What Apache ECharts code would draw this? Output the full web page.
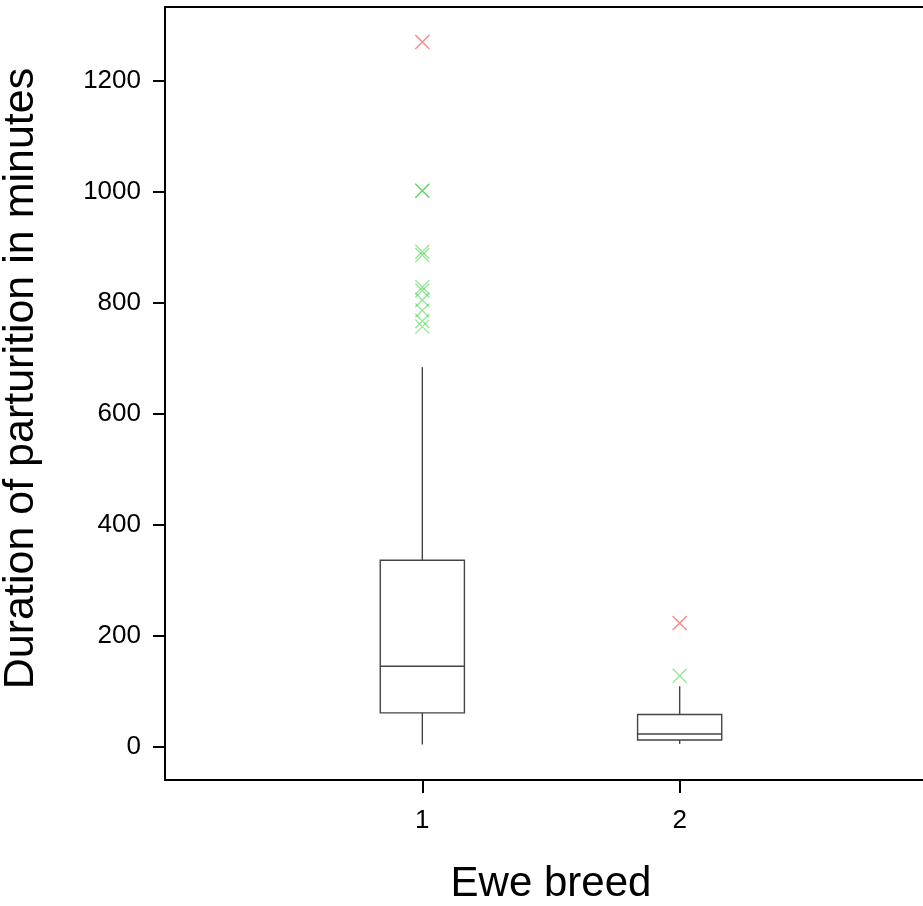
<!DOCTYPE html>
<html>
<head>
<meta charset="utf-8">
<script src="https://cdn.jsdelivr.net/npm/echarts@6/dist/echarts.min.js"></script>
<style>
  html, body { margin: 0; padding: 0; background: #fff; }
  #chart { width: 923px; height: 906px; }
</style>
</head>
<body>
<div id="chart"></div>
<script>
// ewe breeds and box statistics (minutes)
const breeds = ['1', '2'];
const whiskerLow = [4, 5];
const q1 = [61, 12];
const median = [145, 23];
const q3 = [336, 58];
const whiskerHigh = [684, 109];
// outliers per breed (green) and extreme values (red)
const outliers1 = [1002, 1002, 892, 886, 828, 822, 805, 786, 767, 757];
const outliers2 = [128];
const extremes = [1270, 223];
const yTicks = [0, 200, 400, 600, 800, 1000, 1200];

const font = "'Liberation Sans', Arial, sans-serif";
const cross = 'path://M0,0L10,10M10,0L0,10';

var boxData = breeds.map(function (b, i) {
  return [i + 1, whiskerLow[i], q1[i], median[i], q3[i], whiskerHigh[i]];
});
var greenPts = outliers1.map(function (v) { return [1, v]; })
  .concat(outliers2.map(function (v) { return [2, v]; }));
var redPts = extremes.map(function (v, i) { return [i + 1, v]; });

var chart = echarts.init(document.getElementById('chart'));
chart.setOption({
  backgroundColor: '#fff',
  animation: false,
  grid: {
    left: 165,
    right: -14,
    top: 7,
    bottom: 126,
    containLabel: false,
    outerBoundsMode: 'none'
  },
  xAxis: [{
    type: 'value',
    min: 0,
    max: 3,
    position: 'bottom',
    name: 'Ewe breed',
    nameLocation: 'middle',
    nameGap: 83,
    nameTextStyle: { fontFamily: font, fontSize: 42, color: '#000' },
    axisLine: { show: true, onZero: false, lineStyle: { color: '#000', width: 2 } },
    axisTick: { show: true, length: 13, lineStyle: { color: '#000', width: 2 }, customValues: [1, 2] },
    axisLabel: {
      fontFamily: font, fontSize: 26, color: '#000', margin: 28,
      customValues: [1, 2],
      formatter: function (v) { return breeds[v - 1]; }
    },
    splitLine: { show: false }
  }, {
    type: 'value',
    min: 0,
    max: 3,
    position: 'top',
    axisLine: { show: true, onZero: false, lineStyle: { color: '#000', width: 2 } },
    axisTick: { show: false },
    axisLabel: { show: false },
    splitLine: { show: false }
  }],
  yAxis: {
    type: 'value',
    min: -60,
    max: 1333,
    name: 'Duration of parturition in minutes',
    nameLocation: 'middle',
    nameGap: 122,
    nameTextStyle: { fontFamily: font, fontSize: 43, color: '#000', padding: [0, 0, 0, 30] },
    axisLine: { show: true, onZero: false, lineStyle: { color: '#000', width: 2 } },
    axisTick: { show: true, length: 12, lineStyle: { color: '#000', width: 2 }, customValues: yTicks },
    axisLabel: {
      fontFamily: font, fontSize: 26, color: '#000', margin: 24, customValues: yTicks,
      formatter: function (v) { return String(v); }
    },
    splitLine: { show: false }
  },
  series: [{
    type: 'custom',
    xAxisIndex: 0,
    data: boxData,
    renderItem: function (params, api) {
      var x = api.value(0);
      var half = api.size([0.327, 0])[0] / 2;
      var lo = api.coord([x, api.value(1)]);
      var b1 = api.coord([x, api.value(2)]);
      var md = api.coord([x, api.value(3)]);
      var b3 = api.coord([x, api.value(4)]);
      var hi = api.coord([x, api.value(5)]);
      var st = { stroke: '#444', lineWidth: 1.4, fill: null };
      return {
        type: 'group',
        children: [
          { type: 'rect', shape: { x: b1[0] - half, y: b3[1], width: half * 2, height: b1[1] - b3[1] }, style: st },
          { type: 'line', shape: { x1: md[0] - half, y1: md[1], x2: md[0] + half, y2: md[1] }, style: st },
          { type: 'line', shape: { x1: hi[0], y1: hi[1], x2: b3[0], y2: b3[1] }, style: st },
          { type: 'line', shape: { x1: lo[0], y1: lo[1], x2: b1[0], y2: b1[1] }, style: st }
        ]
      };
    }
  }, {
    type: 'scatter',
    data: greenPts,
    symbol: cross,
    symbolSize: 14,
    itemStyle: { color: 'none', borderColor: 'rgba(40,200,40,0.6)', borderWidth: 1.3 }
  }, {
    type: 'scatter',
    data: redPts,
    symbol: cross,
    symbolSize: 14,
    itemStyle: { color: 'none', borderColor: 'rgba(255,50,50,0.75)', borderWidth: 1.3 }
  }]
});
</script>
</body>
</html>
